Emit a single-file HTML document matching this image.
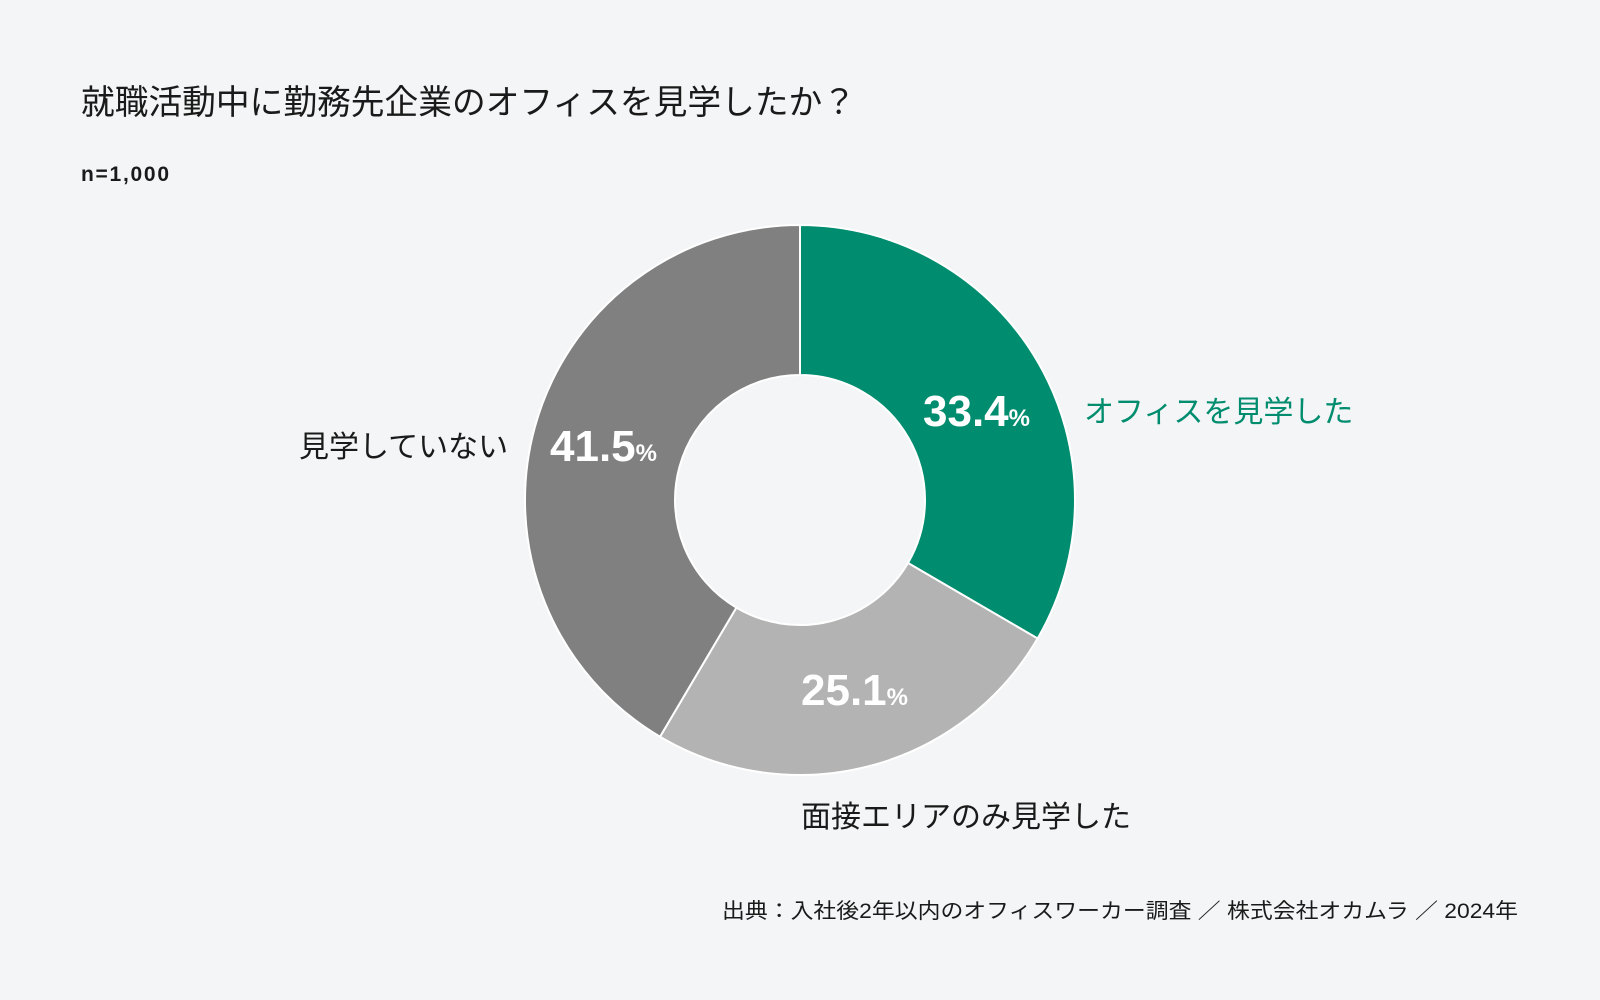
<!DOCTYPE html>
<html><head><meta charset="utf-8">
<style>
html,body{margin:0;padding:0;background:#f4f5f6;}
svg{display:block;font-family:"Liberation Sans","Noto Sans CJK JP",sans-serif;}
</style></head>
<body>
<svg id="chart" width="1600" height="1000" viewBox="0 0 1600 1000" xmlns="http://www.w3.org/2000/svg">
<rect width="1600" height="1000" fill="#f4f5f6"/>
<text x="81" y="114" font-size="34" fill="#1a1a1a" textLength="775" lengthAdjust="spacingAndGlyphs">就職活動中に勤務先企業のオフィスを見学したか？</text>
<text x="81" y="181" font-size="21" font-weight="bold" fill="#1a1a1a" textLength="88" lengthAdjust="spacing">n=1,000</text>
<g id="slices"></g>
<g font-weight="bold" fill="#ffffff">
<text x="923" y="426" font-size="44">33.4<tspan font-size="24">%</tspan></text>
<text x="550" y="461" font-size="44">41.5<tspan font-size="24">%</tspan></text>
<text x="801" y="705" font-size="44">25.1<tspan font-size="24">%</tspan></text>
</g>
<text x="1084" y="422" font-size="30" fill="#008c6e">オフィスを見学した</text>
<text x="299" y="457" font-size="30" fill="#1a1a1a">見学していない</text>
<text x="801" y="827" font-size="30" fill="#1a1a1a">面接エリアのみ見学した</text>
<text x="722" y="918" font-size="21" fill="#1a1a1a" textLength="796" lengthAdjust="spacingAndGlyphs">出典：入社後2年以内のオフィスワーカー調査 ／ 株式会社オカムラ ／ 2024年</text>
</svg>
<script>
const categories = ["オフィスを見学した", "面接エリアのみ見学した", "見学していない"];
const values = [33.4, 25.1, 41.5];
const colors = ["#008c6e", "#b3b3b3", "#808080"];
const cx = 800, cy = 500, R = 275, r = 125;
const g = document.getElementById('slices');
const total = values.reduce((a, b) => a + b, 0);
function pt(rad, a) { return [cx + rad * Math.sin(a), cy - rad * Math.cos(a)]; }
let start = 0;
values.forEach((v, i) => {
  const end = start + v / total * 2 * Math.PI;
  const large = (end - start) > Math.PI ? 1 : 0;
  const [x1, y1] = pt(R, start), [x2, y2] = pt(R, end), [x3, y3] = pt(r, end), [x4, y4] = pt(r, start);
  const p = document.createElementNS('http://www.w3.org/2000/svg', 'path');
  p.setAttribute('d', `M${x1},${y1} A${R},${R} 0 ${large} 1 ${x2},${y2} L${x3},${y3} A${r},${r} 0 ${large} 0 ${x4},${y4} Z`);
  p.setAttribute('fill', colors[i]);
  p.setAttribute('stroke', '#ffffff');
  p.setAttribute('stroke-width', '2');
  
  
  g.appendChild(p);
  start = end;
});
</script>
</body></html>
